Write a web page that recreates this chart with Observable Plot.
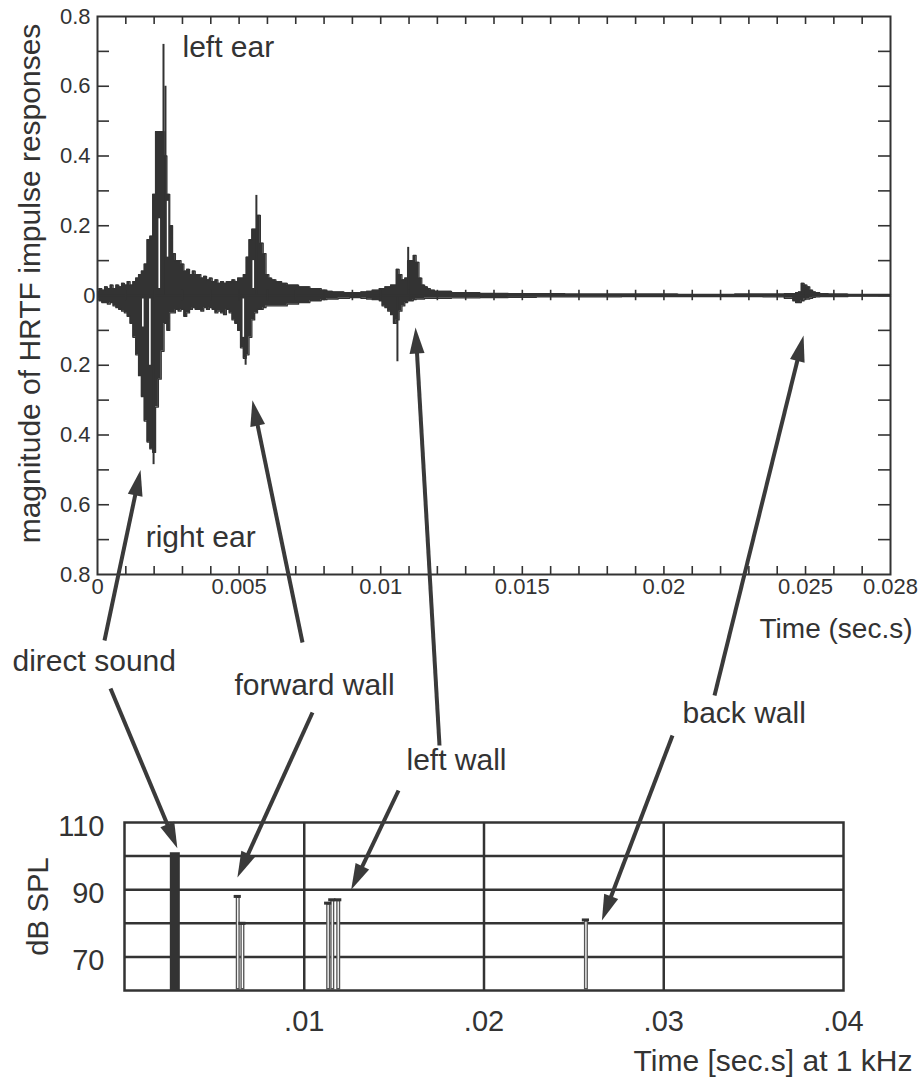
<!DOCTYPE html>
<html>
<head>
<meta charset="utf-8">
<script src="https://cdn.jsdelivr.net/npm/d3@7"></script>
<script src="https://cdn.jsdelivr.net/npm/@observablehq/plot@0.6"></script>
<style>
  html, body { margin: 0; padding: 0; background: #fff; }
  #wrap { position: relative; width: 918px; height: 1088px; overflow: hidden; background: #fff;
          font-family: "Liberation Sans", Arial, Helvetica, sans-serif; }
  #wrap svg { position: absolute; left: 0; }
</style>
</head>
<body>
<div id="wrap"></div>
<script>
// ---------------- DATA: HRTF impulse responses ----------------
// time in seconds
const time = [
  0.0000,0.0001,0.0002,0.0003,0.0004,0.0005,0.0006,0.0007,0.0008,0.0009,0.0010,0.0011,0.0012,0.0013,
  0.0014,0.0015,0.0016,0.0017,0.0018,0.0019,0.0020,0.0021,0.0022,0.0023,0.0024,0.0025,0.0026,0.0027,0.0028,0.0029,
  0.0030,0.0031,0.0032,0.0033,0.0034,0.0035,0.0036,0.0037,0.0038,0.0039,0.0040,0.0041,0.0042,0.0043,0.0044,0.0045,
  0.0046,0.0047,0.0048,0.0049,0.0050,0.0051,0.0052,0.0053,0.0054,0.0055,0.0056,0.0057,0.0058,0.0059,0.0060,0.0061,0.0062,
  0.0064,0.0066,0.0068,0.0070,0.0072,0.0074,0.0076,0.0078,0.0080,0.0082,0.0084,0.0086,0.0088,0.0090,0.0092,0.0094,0.0096,0.0098,
  0.0099,0.0100,0.0101,0.0102,0.0103,0.0104,0.0105,0.0106,0.0107,0.0108,0.0109,0.0110,0.0111,0.0112,0.0113,0.0114,0.0115,0.0116,0.0117,0.0118,
  0.0120,0.0130,0.0140,0.0150,0.0160,0.0170,0.0180,0.0190,0.0200,0.0210,0.0220,0.0230,0.0240,
  0.0245,0.0246,0.0247,0.0248,0.0249,0.0250,0.0251,0.0252,0.0253,0.0254,0.0256,0.0260,0.0270,0.0280
];
// left ear (plotted upward)
const leftEar = [
  0.010,0.020,0.015,0.025,0.020,0.030,0.020,0.030,0.025,0.035,0.030,0.040,0.030,0.040,
  0.050,0.060,0.070,0.090,0.160,0.170,0.290,0.470,0.470,0.470,0.400,0.290,0.200,0.120,0.100,0.100,
  0.090,0.070,0.075,0.060,0.070,0.060,0.060,0.050,0.055,0.045,0.050,0.040,0.045,0.035,0.040,0.035,
  0.040,0.040,0.045,0.040,0.050,0.050,0.060,0.110,0.160,0.190,0.190,0.230,0.150,0.120,0.060,0.050,0.045,
  0.040,0.035,0.030,0.030,0.025,0.025,0.020,0.020,0.015,0.012,0.010,0.010,0.008,0.008,0.008,0.010,0.012,0.015,
  0.015,0.020,0.020,0.025,0.025,0.030,0.030,0.075,0.060,0.045,0.050,0.100,0.100,0.115,0.095,0.050,0.030,0.025,0.020,0.015,
  0.012,0.008,0.006,0.005,0.005,0.004,0.004,0.004,0.004,0.003,0.003,0.004,0.004,
  0.005,0.005,0.008,0.010,0.035,0.030,0.025,0.015,0.010,0.008,0.005,0.004,0.003,0.003
];
// right ear (magnitude, plotted downward)
const rightEar = [
  0.010,0.015,0.020,0.020,0.025,0.020,0.030,0.035,0.040,0.045,0.050,0.060,0.080,0.120,
  0.170,0.230,0.290,0.360,0.420,0.440,0.450,0.320,0.240,0.160,0.080,0.100,0.050,0.050,0.040,0.045,
  0.040,0.060,0.050,0.040,0.035,0.040,0.040,0.045,0.035,0.040,0.035,0.040,0.050,0.045,0.050,0.055,
  0.040,0.050,0.070,0.080,0.100,0.150,0.180,0.170,0.120,0.070,0.050,0.040,0.040,0.035,0.030,0.030,0.030,
  0.030,0.030,0.025,0.025,0.020,0.020,0.015,0.015,0.012,0.010,0.010,0.008,0.008,0.006,0.006,0.008,0.010,0.012,
  0.012,0.015,0.030,0.035,0.045,0.055,0.080,0.070,0.045,0.030,0.020,0.015,0.015,0.012,0.010,0.010,0.010,0.008,0.008,0.008,
  0.008,0.007,0.006,0.005,0.004,0.004,0.004,0.003,0.003,0.003,0.003,0.003,0.004,
  0.008,0.015,0.020,0.020,0.015,0.010,0.010,0.008,0.005,0.004,0.003,0.003,0.002,0.002
];
// narrow spikes standing out of the envelopes
const leftSpikeTime  = [0.00233, 0.00240, 0.00561, 0.01097];
const leftSpikeValue = [0.72, 0.60, 0.287, 0.138];
const rightSpikeTime  = [0.00198, 0.00523, 0.01059];
const rightSpikeValue = [0.485, 0.20, 0.19];
// light gaps inside the dense traces (time, from, to; right ear negative)
const gapTime = [0.00218, 0.00247, 0.00185, 0.00160, 0.00550, 0.00515];
const gapFrom = [0.02, 0.11, -0.01, -0.01, 0.02, -0.01];
const gapTo   = [0.22, 0.27, -0.20, -0.09, 0.10, -0.12];

// axis ticks of the upper chart
const xTickValues = [0, 0.005, 0.01, 0.015, 0.02, 0.025, 0.028];
const xTickLabels = ["0", "0.005", "0.01", "0.015", "0.02", "0.025", "0.028"];
const yTickValues = [0.8, 0.6, 0.4, 0.2, 0, -0.2, -0.4, -0.6, -0.8];
const yTickLabels = ["0.8", "0.6", "0.4", "0.2", "0", "0.2", "0.4", "0.6", "0.8"];

// ---------------- DATA: reflections in dB SPL ----------------
const reflTime = [0.0028, 0.0063, 0.00656, 0.01133, 0.01156, 0.01189, 0.02567];
const reflDb   = [101, 88, 80, 86, 87, 87, 81];
const reflKind = ["direct", "forward", "forward", "left", "left", "left", "back"];
const dbGrid = [70, 80, 90, 100];
const dbTickValues = [110, 90, 70];
const timeGrid = [0.01, 0.02, 0.03];
const timeTickValues = [0.01, 0.02, 0.03, 0.04];
const timeTickLabels = [".01", ".02", ".03", ".04"];

// ---------------- annotations ----------------
const annotText = ["direct sound", "forward wall", "left wall", "back wall"];
const annotX = [12, 234, 406, 682];
const annotY = [661, 685, 760, 713];
// arrows: tail (page px) -> target in chart data units
const arrowDefs = [
  {tail: [104, 640], chart: "top", t: 0.00152, v: -0.50},
  {tail: [110, 688], chart: "bottom", t: 0.00294, v: 102.3},
  {tail: [302, 642], chart: "top", t: 0.00547, v: -0.30},
  {tail: [312, 712], chart: "bottom", t: 0.00628, v: 93.6},
  {tail: [439, 745], chart: "top", t: 0.01123, v: -0.092},
  {tail: [398, 790], chart: "bottom", t: 0.01261, v: 90.0},
  {tail: [714, 695], chart: "top", t: 0.02493, v: -0.115},
  {tail: [672, 735], chart: "bottom", t: 0.02656, v: 80.8}
];

// ---------------- build tables ----------------
const wave = time.map((t, i) => ({t, L: leftEar[i], R: -rightEar[i]}));
const spikes = leftSpikeTime.map((t, i) => ({t, v: leftSpikeValue[i]}))
  .concat(rightSpikeTime.map((t, i) => ({t, v: -rightSpikeValue[i]})));
const gaps = gapTime.map((t, i) => ({t, a: gapFrom[i], b: gapTo[i]}));
const xTicks = xTickValues.map((v, i) => ({v, s: xTickLabels[i]}));
const yTicks = yTickValues.map((v, i) => ({v, s: yTickLabels[i]}));
const refl = reflTime.map((t, i) => ({t, db: reflDb[i], kind: reflKind[i]}));
const timeTicks = timeTickValues.map((v, i) => ({v, s: timeTickLabels[i]}));

const INK = "#333";
const FONT = "Liberation Sans, Arial, Helvetica, sans-serif";
const xMinor = d3.range(1, 28).map(i => i / 1000);
const yMinor = d3.range(-7, 8).map(i => i / 10);

const wrap = document.getElementById("wrap");

// ---------------- upper chart ----------------
const W1 = 918, H1 = 660, ML1 = 97, MR1 = 28, MT1 = 16, MB1 = 86;
const fw1 = W1 - ML1 - MR1, fh1 = H1 - MT1 - MB1;
const chartTop = Plot.plot({
  width: W1, height: H1,
  marginLeft: ML1, marginRight: MR1, marginTop: MT1, marginBottom: MB1,
  x: {domain: [0, 0.028], axis: null},
  y: {domain: [-0.8, 0.8], axis: null},
  style: {fontFamily: FONT, background: "transparent", color: INK},
  marks: [
    Plot.areaY(wave, {x: "t", y1: 0, y2: "L", curve: "step", fill: INK}),
    Plot.areaY(wave, {x: "t", y1: 0, y2: "R", curve: "step", fill: INK}),
    Plot.lineY(wave, {x: "t", y: "L", curve: "step", stroke: INK, strokeWidth: 1.3}),
    Plot.lineY(wave, {x: "t", y: "R", curve: "step", stroke: INK, strokeWidth: 1.3}),
    Plot.ruleX(gaps, {x: "t", y1: "a", y2: "b", stroke: "#fff", strokeWidth: 1.6}),
    Plot.ruleX(spikes, {x: "t", y1: 0, y2: "v", stroke: INK, strokeWidth: 2}),
    Plot.ruleY([0], {stroke: INK, strokeWidth: 2}),
    Plot.ruleX(xMinor, {y1: -0.015, y2: 0.015, stroke: INK, strokeWidth: 1.6}),
    // frame ticks (inward)
    Plot.ruleY(yMinor, {stroke: INK, strokeWidth: 1.6, insetRight: fw1 - 12}),
    Plot.ruleY(yMinor, {stroke: INK, strokeWidth: 1.6, insetLeft: fw1 - 12}),
    Plot.ruleX(xMinor, {stroke: INK, strokeWidth: 1.6, insetBottom: fh1 - 8}),
    Plot.ruleX(xMinor, {stroke: INK, strokeWidth: 1.6, insetTop: fh1 - 8}),
    Plot.frame({stroke: INK, strokeWidth: 2}),
    // tick labels
    Plot.text(xTicks, {x: "v", text: "s", frameAnchor: "bottom", dy: 19, fontSize: 22, fill: INK}),
    Plot.text(yTicks.filter(d => d.v !== 0), {y: "v", text: "s", frameAnchor: "left", dx: -7, textAnchor: "end", fontSize: 22, fill: INK}),
    Plot.text(yTicks.filter(d => d.v === 0), {y: "v", text: "s", frameAnchor: "left", dx: -2, textAnchor: "end", fontSize: 22, fill: INK}),
    // titles
    Plot.text(["magnitude of HRTF impulse responses"], {frameAnchor: "left", dx: -67, dy: -12, rotate: -90, textAnchor: "middle", fontSize: 30, fill: INK}),
    Plot.text(["Time (sec.s)"], {frameAnchor: "bottom-right", dx: 22, dy: 63, textAnchor: "end", fontSize: 28, fill: INK}),
    Plot.text(["left ear"], {x: 0.0030, y: 0.71, textAnchor: "start", fontSize: 30, fill: INK}),
    Plot.text(["right ear"], {x: 0.0017, y: -0.694, textAnchor: "start", fontSize: 30, fill: INK})
  ]
});
chartTop.style.top = "0px";
wrap.append(chartTop);

// ---------------- lower chart ----------------
const OFF2 = 780;
const W2 = 918, H2 = 300, ML2 = 124, MR2 = 75, MT2 = 42, MB2 = 90;
const chartBottom = Plot.plot({
  width: W2, height: H2,
  marginLeft: ML2, marginRight: MR2, marginTop: MT2, marginBottom: MB2,
  x: {domain: [0, 0.04], axis: null},
  y: {domain: [60, 110], axis: null},
  style: {fontFamily: FONT, background: "transparent", color: INK},
  marks: [
    Plot.ruleY(dbGrid, {stroke: INK, strokeWidth: 2.5}),
    Plot.ruleX(timeGrid, {stroke: INK, strokeWidth: 2.5}),
    Plot.frame({stroke: INK, strokeWidth: 2.5}),
    Plot.ruleX(refl.filter(d => d.kind === "direct"), {x: "t", y1: 60, y2: "db", stroke: INK, strokeWidth: 10}),
    Plot.ruleX(refl.filter(d => d.kind !== "direct"), {x: "t", y1: 60, y2: "db", stroke: "#555", strokeWidth: 4}),
    Plot.ruleX(refl.filter(d => d.kind !== "direct"), {x: "t", y1: 60.6, y2: d => d.db - 0.6, stroke: "#fff", strokeWidth: 1.3}),
    Plot.ruleY(refl.filter(d => d.kind !== "direct"), {y: "db", x1: d => d.t - 0.0002, x2: d => d.t + 0.0002, stroke: INK, strokeWidth: 3}),
    Plot.text(dbTickValues, {y: d => d, text: d => String(d), frameAnchor: "left", dx: -20, dy: 4, textAnchor: "end", fontSize: 29, fill: INK}),
    Plot.text(timeTicks, {x: "v", text: "s", frameAnchor: "bottom", dy: 40, fontSize: 29, fill: INK}),
    Plot.text(["dB SPL"], {frameAnchor: "left", dx: -86, rotate: -90, textAnchor: "middle", fontSize: 29, fill: INK}),
    Plot.text(["Time [sec.s] at 1 kHz"], {frameAnchor: "bottom-right", dx: 69, dy: 80, textAnchor: "end", fontSize: 30, fill: INK})
  ]
});
chartBottom.style.top = OFF2 + "px";
wrap.append(chartBottom);

// ---------------- overlay: labels + arrows ----------------
const xT = chartTop.scale("x"), yT = chartTop.scale("y");
const xB = chartBottom.scale("x"), yB = chartBottom.scale("y");
const HEAD = 26;
const arrows = arrowDefs.map(a => {
  const tip = a.chart === "top"
    ? [xT.apply(a.t), yT.apply(a.v)]
    : [xB.apply(a.t), OFF2 + yB.apply(a.v)];
  const dx = tip[0] - a.tail[0], dy = tip[1] - a.tail[1];
  const L = Math.hypot(dx, dy);
  return {
    x1: a.tail[0], y1: a.tail[1],
    x2: tip[0] - dx / L * (HEAD - 4), y2: tip[1] - dy / L * (HEAD - 4),
    tx: tip[0], ty: tip[1],
    angle: Math.atan2(dx, -dy) * 180 / Math.PI
  };
});
const arrowHead = {
  draw(ctx) {
    ctx.moveTo(0, 0);
    ctx.lineTo(7.5, HEAD);
    ctx.lineTo(-7.5, HEAD);
    ctx.closePath();
  }
};
const annots = annotText.map((s, i) => ({s, x: annotX[i], y: annotY[i]}));
const overlay = Plot.plot({
  width: 918, height: 1088,
  margin: 0,
  x: {domain: [0, 918], range: [0, 918], axis: null},
  y: {domain: [0, 1088], range: [0, 1088], axis: null},
  style: {fontFamily: FONT, background: "transparent", color: INK},
  marks: [
    Plot.link(arrows, {x1: "x1", y1: "y1", x2: "x2", y2: "y2", stroke: "#3a3a3a", strokeWidth: 4}),
    Plot.dot(arrows, {x: "tx", y: "ty", rotate: "angle", symbol: arrowHead, r: 5, fill: "#3a3a3a", stroke: "none"}),
    Plot.text(annots, {x: "x", y: "y", text: "s", textAnchor: "start", fontSize: 30, fill: INK})
  ]
});
overlay.style.top = "0px";
overlay.style.pointerEvents = "none";
wrap.append(overlay);
</script>
</body>
</html>
